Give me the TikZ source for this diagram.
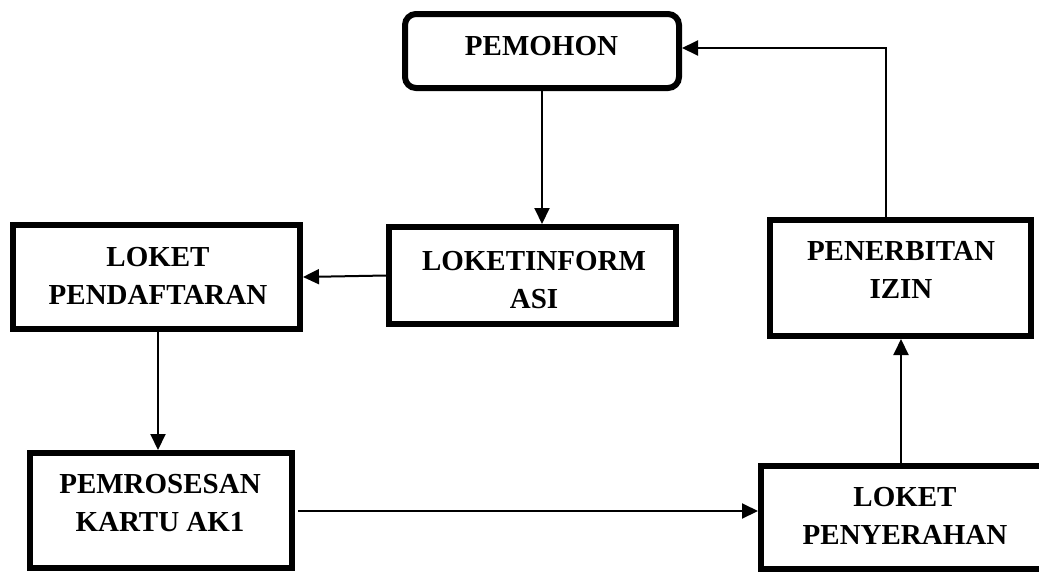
\documentclass[tikz,border=0pt]{standalone}
\usepackage{fontspec}
\setmainfont{Liberation Serif}
\usetikzlibrary{arrows.meta,calc}

\tikzset{
  box/.style={draw, line width=6pt, rectangle, inner sep=0pt, fill=white},
  roundbox/.style={box, rounded corners=11pt},
  label text/.style={align=center, inner sep=0pt,
    font=\fontsize{29}{38}\selectfont\bfseries},
  flow/.style={line width=2pt, -{Triangle[length=16pt,width=15pt]}}
}

\begin{document}
\begin{tikzpicture}[x=1pt, y=-1pt]
  \useasboundingbox (0,0) rectangle (1039,574);
  \clip (0,0) rectangle (1039,574);

  % boxes
  \node[roundbox, minimum width=274pt, minimum height=74pt] (pem) at (542,51) {};
  \node[box, minimum width=287pt, minimum height=97pt] (inf) at (532.5,275.5) {};
  \node[box, minimum width=287pt, minimum height=104pt] (daf) at (156.5,277) {};
  \node[box, minimum width=261pt, minimum height=116pt] (pen) at (900.5,278) {};
  \node[box, minimum width=262pt, minimum height=115pt] (pros) at (161,510.5) {};
  \node[box, minimum width=288pt, minimum height=103pt] (pny) at (905,517.5) {};

  % box texts
  \node[label text] (tpem) at (541.5,46) {PEMOHON};
  \node[label text] (tinf) at (534,280.5) {LOKETINFORM\\ASI};
  \node[label text] (tdaf) at (158,276) {LOKET\\PENDAFTARAN};
  \node[label text] (tpen) at (901,270) {PENERBITAN\\IZIN};
  \node[label text] (tpros) at (160,503.5) {PEMROSESAN\\KARTU AK1};
  \node[label text] (tpny) at (905,516) {LOKET\\PENYERAHAN};

  % connectors
  \draw[flow] (pem.south) -- (pem.south |- inf.north);
  \draw[flow] (inf.west) -- (daf.east);
  \draw[flow] ([xshift=1.5pt]daf.south) -- ([xshift=1.5pt]daf.south |- pros.north);
  \draw[flow, shorten <=3pt] ([yshift=-0.5pt]pros.east) -- ([yshift=-0.5pt]pros.east -| pny.west);
  \draw[flow] ([xshift=-4pt]pny.north) -- ([xshift=-4pt]pny.north |- pen.south);
  \coordinate (back) at ([yshift=3pt]pem.east);
  \draw[flow] ([xshift=-14.5pt]pen.north) |- (back);
\end{tikzpicture}
\end{document}
